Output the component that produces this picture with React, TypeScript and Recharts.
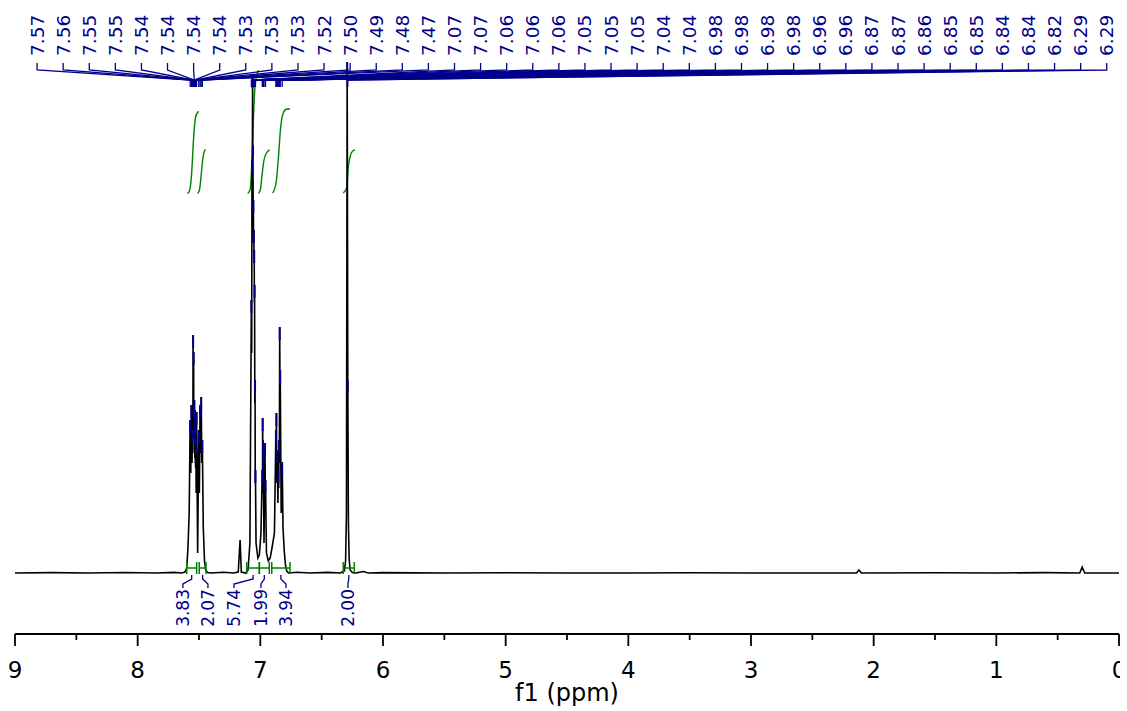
import { ComposedChart, Line, Scatter, XAxis, YAxis } from "recharts";

const FONT = '"DejaVu Sans", Verdana, sans-serif';
const NAVY = "#00008b";
const GREEN = "#008000";

// picked peaks: position (ppm), printed label, apex height (a.u.)
const PEAK_PPM = [
  7.572, 7.562, 7.553, 7.548, 7.544, 7.541, 7.538, 7.536, 7.532, 7.529, 7.526, 7.52, 7.502, 7.491, 7.482, 7.473,
  7.073, 7.068, 7.063, 7.06, 7.057, 7.053, 7.05, 7.047, 7.043, 7.04,
  6.984, 6.981, 6.978, 6.976, 6.962, 6.958,
  6.873, 6.869, 6.862, 6.853, 6.848, 6.842, 6.838, 6.822,
  6.292, 6.287,
];
const PEAK_LABELS = [
  "7.57", "7.56", "7.55", "7.55", "7.54", "7.54", "7.54", "7.54", "7.53", "7.53", "7.53", "7.52", "7.50", "7.49", "7.48", "7.47",
  "7.07", "7.07", "7.06", "7.06", "7.06", "7.05", "7.05", "7.05", "7.04", "7.04",
  "6.98", "6.98", "6.98", "6.98", "6.96", "6.96",
  "6.87", "6.87", "6.86", "6.85", "6.85", "6.84", "6.84", "6.82",
  "6.29", "6.29",
];
const PEAK_HEIGHT = [
  153, 168, 143, 238, 221, 168, 173, 153, 163, 143, 133, 161, 143, 168, 176, 133,
  273, 413, 498, 428, 373, 343, 323, 288, 193, 103,
  103, 155, 133, 118, 130, 93,
  143, 160, 123, 103, 133, 246, 203, 111,
  511, 193,
];

// rest of the trace: baseline, valleys between lines, small impurity peaks [ppm, a.u.]
const TRACE: [number, number][] = [
  [9.0, 0], [8.7, 0.4], [8.4, 0], [8.1, 0.5], [7.85, 0], [7.7, 0.6], [7.64, 0], [7.615, 1], [7.6, 5],
  [7.59, 25], [7.58, 60], [7.567, 100], [7.557, 110], [7.5505, 120], [7.546, 170], [7.5425, 150], [7.5395, 140],
  [7.537, 135], [7.534, 115], [7.5305, 110], [7.5275, 105], [7.523, 80], [7.511, 20], [7.497, 80],
  [7.486, 120], [7.4775, 110], [7.465, 45], [7.455, 12], [7.445, 3], [7.43, 0.5], [7.4, 0], [7.3, 0.8], [7.22, 0],
  [7.18, 1], [7.165, 33], [7.155, 1], [7.12, 0], [7.1, 3], [7.085, 30],
  [7.0705, 220], [7.0655, 380], [7.0615, 400], [7.0585, 360], [7.055, 330], [7.0515, 310],
  [7.0485, 270], [7.045, 170], [7.0415, 90], [7.035, 30], [7.02, 15], [7.008, 18], [6.995, 40],
  [6.9825, 80], [6.9795, 110], [6.977, 100], [6.97, 30], [6.96, 80], [6.95, 20], [6.935, 12],
  [6.92, 15], [6.905, 25], [6.885, 40],
  [6.871, 120], [6.865, 90], [6.857, 70], [6.85, 85], [6.845, 110], [6.84, 190], [6.83, 60],
  [6.815, 45], [6.805, 22], [6.795, 8], [6.785, 2], [6.77, 0], [6.7, 0.8], [6.6, 0], [6.45, 0.6], [6.35, 0],
  [6.315, 2], [6.305, 12], [6.298, 60], [6.282, 50], [6.276, 14], [6.268, 3], [6.25, 0.5], [6.22, 0],
  [6.16, 1.5], [6.12, 0], [6.0, 0.4], [5.5, 0], [5.0, 0.3], [4.5, 0], [4.0, 0], [3.5, 0.3], [3.0, 0], [2.5, 0],
  [2.14, 0], [2.12, 3], [2.1, 0], [1.5, 0.3], [1.0, 0], [0.6, 0.4], [0.32, 0], [0.3, 6], [0.28, 0], [0.0, 0],
];

// integrals
const INT_LABELS = ["3.83", "2.07", "5.74", "1.99", "3.94", "2.00"];
const INT_FROM = [7.6, 7.498, 7.111, 7.008, 6.907, 6.324];
const INT_TO = [7.519, 7.443, 7.008, 6.927, 6.758, 6.234];
const INT_LABEL_PPM = [7.631, 7.427, 7.215, 6.995, 6.791, 6.286];
const INT_CURVES: [number, number][][] = [
  [[7.595, 379.5], [7.578, 382], [7.561, 398], [7.545, 433], [7.529, 455], [7.512, 460.5], [7.502, 461.5]],
  [[7.511, 379.5], [7.496, 383], [7.48, 401], [7.467, 416], [7.455, 422], [7.447, 423.5]],
  [[7.103, 379.5], [7.084, 383], [7.072, 403], [7.06, 443], [7.048, 478], [7.031, 497], [7.015, 503]],
  [[7.015, 379.5], [6.999, 384], [6.986, 398], [6.97, 413], [6.95, 420], [6.925, 423]],
  [[6.899, 380], [6.872, 390], [6.854, 413], [6.834, 446], [6.813, 460], [6.785, 464], [6.758, 464]],
  [[6.324, 380], [6.296, 385], [6.283, 406], [6.269, 416], [6.247, 422], [6.228, 423]],
];

const X_TICKS = [0, 0.5, 1, 1.5, 2, 2.5, 3, 3.5, 4, 4.5, 5, 5.5, 6, 6.5, 7, 7.5, 8, 8.5, 9];

// annotation layout (same units as the trace)
const SLOT_FIRST = 8.82;
const SLOT_LAST = 0.1;
const slot = (i: number) => SLOT_FIRST + ((SLOT_LAST - SLOT_FIRST) * i) / (PEAK_PPM.length - 1);

const spectrum = [
  ...TRACE.map(([ppm, v]) => ({ ppm, v })),
  ...PEAK_PPM.map((ppm, i) => ({ ppm, v: PEAK_HEIGHT[i] })),
].sort((a, b) => b.ppm - a.ppm);

const peakMarks = PEAK_PPM.map((ppm, i) => ({ ppm, v: PEAK_HEIGHT[i] }));
const peakLabels = PEAK_LABELS.map((label, i) => ({ ppm: slot(i), v: 517, label }));
const peakLeads = PEAK_PPM.map((p, i) => [
  { ppm: slot(i), v: 510 },
  { ppm: slot(i), v: 503 },
  { ppm: p, v: 493 },
  { ppm: p, v: 486 },
]);

const intBars = INT_FROM.map((f, i) => [
  { ppm: f, v: 11 },
  { ppm: f, v: -1 },
  { ppm: f, v: 5 },
  { ppm: INT_TO[i], v: 5 },
  { ppm: INT_TO[i], v: 11 },
  { ppm: INT_TO[i], v: -1 },
]);
const intLeads = INT_FROM.map((f, i) => {
  const mid = (f + INT_TO[i]) / 2;
  return [
    { ppm: mid, v: -2 },
    { ppm: mid, v: -6 },
    { ppm: INT_LABEL_PPM[i], v: -11 },
    { ppm: INT_LABEL_PPM[i], v: -15 },
  ];
});
const intLabels = INT_LABELS.map((label, i) => ({ ppm: INT_LABEL_PPM[i], v: -16, label }));
const intCurves = INT_CURVES.map((c) => c.map(([ppm, v]) => ({ ppm, v })));

function PpmTick(props: any) {
  const { x, y, payload } = props;
  const major = Number.isInteger(payload.value);
  return (
    <g>
      <line x1={x} x2={x} y1={y} y2={y + (major ? 12 : 6)} stroke="#000" strokeWidth={1.8} />
      {major && (
        <text x={x} y={y + 44} textAnchor="middle" fontSize={23} fontFamily={FONT} fill="#000">
          {payload.value}
        </text>
      )}
    </g>
  );
}

const PeakLabel = (p: any) => (
  <text
    x={p.cx + 6.5}
    y={p.cy}
    transform={`rotate(-90 ${p.cx + 6.5} ${p.cy})`}
    fontSize={18.5}
    fontFamily={FONT}
    fill={NAVY}
  >
    {p.payload.label}
  </text>
);

const IntLabel = (p: any) => (
  <text
    x={p.cx + 6}
    y={p.cy}
    transform={`rotate(-90 ${p.cx + 6} ${p.cy})`}
    textAnchor="end"
    fontSize={17}
    fontFamily={FONT}
    fill={NAVY}
  >
    {p.payload.label}
  </text>
);

const PeakMark = (p: any) => (
  <line x1={p.cx} x2={p.cx} y1={p.cy} y2={p.cy + 13} stroke={NAVY} strokeWidth={2} />
);

export default function App() {
  return (
    <div style={{ position: "absolute", left: 0, top: 0, background: "#fff" }}>
      <ComposedChart width={1120} height={711} margin={{ top: 0, right: 1, bottom: 0, left: 15 }}>
        <XAxis
          type="number"
          dataKey="ppm"
          domain={[0, 9]}
          reversed
          allowDataOverflow
          ticks={X_TICKS}
          interval={0}
          tick={<PpmTick />}
          tickLine={false}
          tickSize={0}
          tickMargin={0}
          height={77}
          axisLine={{ stroke: "#000", strokeWidth: 1.8 }}
          label={{ value: "f1 (ppm)", position: "insideBottom", offset: 10, fontSize: 24, fontFamily: FONT, fill: "#000" }}
        />
        <YAxis hide type="number" dataKey="v" domain={[-61, 573]} allowDataOverflow />

        {intCurves.map((d, i) => (
          <Line key={`ic${i}`} data={d} dataKey="v" type="monotone" stroke={GREEN} strokeWidth={1.4} dot={false} activeDot={false} isAnimationActive={false} />
        ))}

        <Line data={spectrum} dataKey="v" type="linear" stroke="#000" strokeWidth={1.6} dot={false} activeDot={false} isAnimationActive={false} />

        {intBars.map((d, i) => (
          <Line key={`ib${i}`} data={d} dataKey="v" type="linear" stroke={GREEN} strokeWidth={1.5} dot={false} activeDot={false} isAnimationActive={false} />
        ))}
        {intLeads.map((d, i) => (
          <Line key={`il${i}`} data={d} dataKey="v" type="linear" stroke={NAVY} strokeWidth={1.3} dot={false} activeDot={false} isAnimationActive={false} />
        ))}
        {peakLeads.map((d, i) => (
          <Line key={`pl${i}`} data={d} dataKey="v" type="linear" stroke={NAVY} strokeWidth={1.3} dot={false} activeDot={false} isAnimationActive={false} />
        ))}

        <Scatter data={peakMarks} dataKey="v" shape={PeakMark} isAnimationActive={false} />
        <Scatter data={peakLabels} dataKey="v" shape={PeakLabel} isAnimationActive={false} />
        <Scatter data={intLabels} dataKey="v" shape={IntLabel} isAnimationActive={false} />
      </ComposedChart>
    </div>
  );
}
